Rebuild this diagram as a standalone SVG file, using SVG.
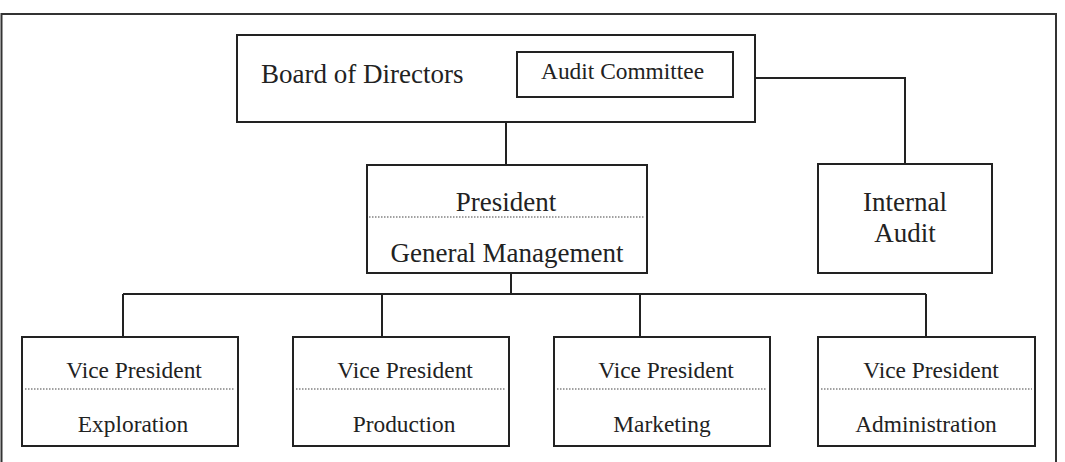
<svg xmlns="http://www.w3.org/2000/svg" width="1065" height="462" viewBox="0 0 1065 462">
<style>
.box{fill:#fff;stroke:#222;stroke-width:2}
.dot{stroke:#444;stroke-width:1.2;stroke-dasharray:1.5 1.5;fill:none}
.ln{stroke:#222;stroke-width:2;fill:none}
.big{font-family:"Liberation Serif","Times New Roman",serif;font-size:27px;fill:#222}
.sm{font-family:"Liberation Serif","Times New Roman",serif;font-size:23.4px;fill:#222}
.c{text-anchor:middle}
</style>
<rect x="0" y="0" width="1065" height="462" fill="#fff"/>
<rect x="1.5" y="14" width="1054.5" height="460" fill="none" stroke="#333" stroke-width="2"/>
<g id="connectors">
<path class="ln" d="M506 122 V165"/>
<path class="ln" d="M755 78 H905 V164"/>
<path class="ln" d="M511 273 V294"/>
<path class="ln" d="M123 294 H926"/>
<path class="ln" d="M123 294 V337"/>
<path class="ln" d="M382 294 V337"/>
<path class="ln" d="M640 294 V337"/>
<path class="ln" d="M926 294 V337"/>
</g>
<g id="board">
<rect class="box" x="237" y="35" width="518" height="87"/>
<text class="big" x="261" y="83">Board of Directors</text>
</g>
<g id="audit-committee">
<rect class="box" x="517" y="52" width="216" height="45"/>
<text class="sm" x="541" y="79">Audit Committee</text>
</g>
<g id="president">
<rect class="box" x="367" y="165" width="280" height="108"/>
<text class="big c" x="506" y="211">President</text>
<line class="dot" x1="369" y1="217" x2="645" y2="217"/>
<text class="big c" x="507" y="262">General Management</text>
</g>
<g id="internal-audit">
<rect class="box" x="818" y="164" width="174" height="109"/>
<text class="big c" x="905" y="211">Internal</text>
<text class="big c" x="905" y="242">Audit</text>
</g>
<g id="vp-exploration">
<rect class="box" x="22" y="337" width="216" height="109"/>
<text class="sm c" x="134" y="378">Vice President</text>
<line class="dot" x1="25" y1="389" x2="235" y2="389"/>
<text class="sm c" x="133" y="432">Exploration</text>
</g>
<g id="vp-production">
<rect class="box" x="293" y="337" width="216" height="109"/>
<text class="sm c" x="405" y="378">Vice President</text>
<line class="dot" x1="296" y1="389" x2="506" y2="389"/>
<text class="sm c" x="404" y="432">Production</text>
</g>
<g id="vp-marketing">
<rect class="box" x="554" y="337" width="216" height="109"/>
<text class="sm c" x="666" y="378">Vice President</text>
<line class="dot" x1="557" y1="389" x2="767" y2="389"/>
<text class="sm c" x="662" y="432">Marketing</text>
</g>
<g id="vp-administration">
<rect class="box" x="818" y="337" width="217" height="109"/>
<text class="sm c" x="931" y="378">Vice President</text>
<line class="dot" x1="821" y1="389" x2="1032" y2="389"/>
<text class="sm c" x="926" y="432">Administration</text>
</g>
</svg>
